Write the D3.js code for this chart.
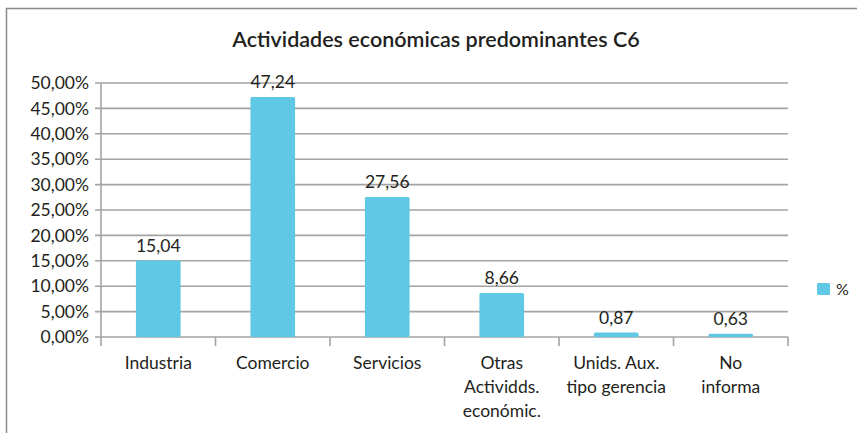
<!DOCTYPE html>
<html>
<head>
<meta charset="utf-8">
<script src="https://cdn.jsdelivr.net/npm/d3@7"></script>
<style>
  body { margin: 0; background: #fff; }
  svg { font-family: Lato, "Noto Sans", sans-serif; }
</style>
</head>
<body>
<div id="chart"></div>
<script>
// datos
const categories = ['Industria', 'Comercio', 'Servicios', 'Otras Actividds. económic.', 'Unids. Aux. tipo gerencia', 'No informa'];
const categoryLines = [['Industria'], ['Comercio'], ['Servicios'], ['Otras', 'Actividds.', 'económic.'], ['Unids. Aux.', 'tipo gerencia'], ['No', 'informa']];
const values = [15.04, 47.24, 27.56, 8.66, 0.87, 0.63];
const valueLabels = ['15,04', '47,24', '27,56', '8,66', '0,87', '0,63'];
const yTicks = [0, 5, 10, 15, 20, 25, 30, 35, 40, 45, 50];
const seriesName = '%';
const title = 'Actividades económicas predominantes C6';

const config = {
    width: 857,
    height: 433,
    margin: { top: 83, right: 69, bottom: 96, left: 101 },
    barColor: '#5ec8e5',
    gridColor: '#a3a3a3',
    textColor: '#231f20'
};

function init() {
    const width = config.width - config.margin.left - config.margin.right;
    const height = config.height - config.margin.top - config.margin.bottom;

    const svg = d3.select('#chart')
        .append('svg')
        .attr('width', config.width)
        .attr('height', config.height);

    // marco
    svg.append('path')
        .attr('d', `M6.5,${config.height} V8.5 H${config.width}`)
        .attr('fill', 'none')
        .attr('stroke', '#8c8c8c')
        .attr('stroke-width', 1.5);

    // título
    svg.append('text')
        .attr('x', 436)
        .attr('y', 47)
        .attr('text-anchor', 'middle')
        .attr('font-size', 21.5)
        .attr('font-weight', 600)
        .attr('fill', config.textColor)
        .text(title);

    const g = svg.append('g')
        .attr('transform', `translate(${config.margin.left},${config.margin.top})`);

    const x = d3.scaleBand()
        .domain(categories)
        .range([0, width])
        .paddingInner(0.61)
        .paddingOuter(0.305);

    const xTickScale = d3.scaleLinear()
        .domain([0, categories.length])
        .range([0, width]);

    const y = d3.scaleLinear()
        .domain([0, 50])
        .range([height, 0]);

    // líneas de cuadrícula
    g.append('g')
        .selectAll('line')
        .data(yTicks)
        .join('line')
        .attr('x1', -6)
        .attr('x2', width)
        .attr('y1', d => y(d))
        .attr('y2', d => y(d))
        .attr('stroke', config.gridColor)
        .attr('stroke-width', 1.6);

    // eje Y
    const yAxis = d3.axisLeft(y)
        .tickValues(yTicks)
        .tickSize(0)
        .tickPadding(12)
        .tickFormat(d => d3.format('.2f')(d).replace('.', ',') + '%');

    g.append('g')
        .call(yAxis)
        .call(s => s.select('.domain').remove())
        .selectAll('text')
        .attr('font-size', 17.5)
        .attr('font-family', 'Lato, "Noto Sans", sans-serif')
        .attr('fill', config.textColor);

    g.append('line')
        .attr('x1', 0).attr('x2', 0)
        .attr('y1', 0).attr('y2', height + 9)
        .attr('stroke', config.gridColor)
        .attr('stroke-width', 1.6);

    // marcas del eje X
    g.append('g')
        .selectAll('line')
        .data(d3.range(1, categories.length + 1))
        .join('line')
        .attr('x1', d => xTickScale(d))
        .attr('x2', d => xTickScale(d))
        .attr('y1', height)
        .attr('y2', height + 9)
        .attr('stroke', config.gridColor)
        .attr('stroke-width', 1.6);

    // barras
    g.append('g')
        .selectAll('rect')
        .data(values)
        .join('rect')
        .attr('x', (d, i) => x(categories[i]))
        .attr('y', d => y(d))
        .attr('width', x.bandwidth())
        .attr('height', d => height - y(d))
        .attr('rx', 1.5)
        .attr('fill', config.barColor);

    // etiquetas de valor
    g.append('g')
        .selectAll('text')
        .data(values)
        .join('text')
        .attr('x', (d, i) => x(categories[i]) + x.bandwidth() / 2)
        .attr('y', d => y(d) - 9)
        .attr('text-anchor', 'middle')
        .attr('font-size', 17.5)
        .attr('fill', config.textColor)
        .text((d, i) => valueLabels[i]);

    // etiquetas de categoría
    const catG = g.append('g')
        .selectAll('text')
        .data(categoryLines)
        .join('text')
        .attr('text-anchor', 'middle')
        .attr('font-size', 17.5)
        .attr('fill', config.textColor)
        .attr('transform', (d, i) => `translate(${x(categories[i]) + x.bandwidth() / 2},${height + 32})`);

    catG.selectAll('tspan')
        .data(d => d)
        .join('tspan')
        .attr('x', 0)
        .attr('dy', (d, i) => i === 0 ? 0 : 24)
        .text(d => d);

    // leyenda
    const legend = svg.append('g')
        .attr('transform', `translate(817,283)`);

    legend.append('rect')
        .attr('width', 13)
        .attr('height', 12)
        .attr('rx', 1.5)
        .attr('fill', config.barColor);

    legend.append('text')
        .attr('x', 19)
        .attr('y', 12)
        .attr('font-size', 16)
        .attr('fill', config.textColor)
        .text(seriesName);
}

window.addEventListener('DOMContentLoaded', init);
</script>
</body>
</html>
